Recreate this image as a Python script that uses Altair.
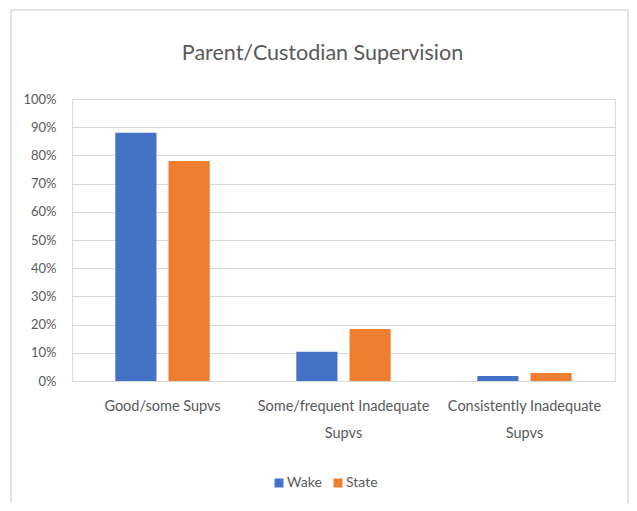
import altair as alt
import pandas as pd

categories = ["Good/some Supvs", "Some/frequent Inadequate Supvs", "Consistently Inadequate Supvs"]
series = ["Wake", "State"]
wake_values = [0.88, 0.104, 0.018]
state_values = [0.78, 0.184, 0.028]
colors = ["#4472C4", "#ED7D31"]

rows = []
for i, c in enumerate(categories):
    rows.append({"category": c, "series": "Wake", "value": wake_values[i]})
    rows.append({"category": c, "series": "State", "value": state_values[i]})
df = pd.DataFrame(rows)

FONT = "Lato"
GREY = "#595959"

label_expr = ("datum.label == 'Good/some Supvs' ? datum.label : "
              "[replace(datum.label, ' Supvs', ''), 'Supvs']")

bars = alt.Chart(df).mark_bar().encode(
    x=alt.X("category:N", sort=categories,
            scale=alt.Scale(paddingInner=0, paddingOuter=0),
            axis=alt.Axis(title=None, labelAngle=0, labelExpr=label_expr,
                          labelFont=FONT, labelFontSize=14.5, labelColor=GREY,
                          labelLineHeight=27, labelPadding=18,
                          ticks=False, domain=False, grid=False,
                          labelBaseline="top")),
    xOffset=alt.XOffset("series:N", sort=series,
                        scale=alt.Scale(paddingInner=0.226, paddingOuter=0.814)),
    y=alt.Y("value:Q", scale=alt.Scale(domain=[0, 1]),
            axis=alt.Axis(title=None, format=".0%", values=[i / 10 for i in range(11)],
                          labelFont=FONT, labelFontSize=13, labelColor=GREY,
                          labelPadding=16, ticks=False, domain=False,
                          grid=True, gridColor="#d9d9d9", gridWidth=1)),
    color=alt.Color("series:N", sort=series,
                    scale=alt.Scale(domain=series, range=colors),
                    legend=alt.Legend(title=None, orient="none", direction="horizontal",
                                      legendX=200, legendY=377,
                                      symbolType="square", symbolSize=81,
                                      symbolStrokeWidth=0,
                                      labelFont=FONT, labelFontSize=14, labelColor=GREY,
                                      labelOffset=1, columnPadding=9, padding=0)),
)

border = alt.Chart(pd.DataFrame({"k": [0]})).mark_rect(
    fill=None, stroke="#d9d9d9", strokeWidth=1.5
).encode(x=alt.value(-61), x2=alt.value(556), y=alt.value(-89), y2=alt.value(420))

chart = alt.layer(border, bars).properties(
    width=543, height=282,
    autosize=alt.AutoSizeParams(type="none"),
    padding={"left": 64, "top": 91, "right": 14, "bottom": 122},
    title=alt.TitleParams("Parent/Custodian Supervision", font=FONT, fontSize=21.5,
                          fontWeight="normal", color=GREY, anchor="middle",
                          baseline="alphabetic", offset=0, dy=72, dx=-21),
).configure_view(stroke=None).configure(background="white")

chart.save("out.html", embed_options={"renderer": "svg", "actions": False})
